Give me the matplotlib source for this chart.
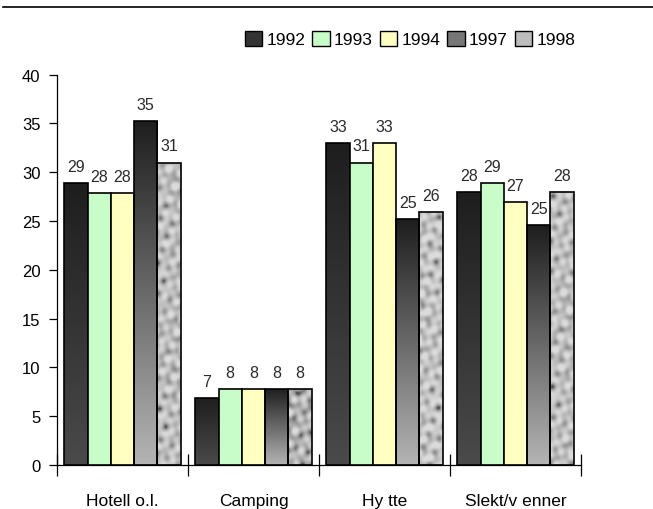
#!/usr/bin/env python3

"""Overnattingsform 1992-1998: grouped bar chart with gradient/texture fills."""

import matplotlib
matplotlib.use("Agg")
import matplotlib.pyplot as plt
import numpy as np
from matplotlib.lines import Line2D
from matplotlib.patches import Patch

FONT = ["Liberation Sans Narrow", "Liberation Sans", "DejaVu Sans"]
plt.rcParams["font.family"] = FONT

categories = ["Hotell o.l.", "Camping", "Hy tte", "Slekt/v enner"]
years = ["1992", "1993", "1994", "1997", "1998"]
values = {
    "1992": [28.9, 6.9, 33.0, 28.0],
    "1993": [27.9, 7.8, 31.0, 28.9],
    "1994": [27.9, 7.8, 33.0, 27.0],
    "1997": [35.3, 7.8, 25.2, 24.6],
    "1998": [31.0, 7.8, 25.9, 28.0],
}
labels = {
    "1992": [29, 7, 33, 28],
    "1993": [28, 8, 31, 29],
    "1994": [28, 8, 33, 27],
    "1997": [35, 8, 25, 25],
    "1998": [31, 8, 26, 28],
}
y_ticks = [0, 5, 10, 15, 20, 25, 30, 35, 40]

# fill styles per year: ("solid", colour) or ("gradient", top, bottom) or ("texture",)
fills = {
    "1992": ("gradient", "#1e1e1e", "#4a4a4a"),
    "1993": ("solid", "#c8fcc8"),
    "1994": ("solid", "#ffffc2"),
    "1997": ("gradient", "#1e1e1e", "#b4b4b4"),
    "1998": ("texture",),
}
legend_colors = {"1992": "#333333", "1993": "#c8fcc8", "1994": "#ffffc2",
                 "1997": "#777777", "1998": "#bdbdbd"}

fig = plt.figure(figsize=(6.53, 5.10), dpi=100)
ax = fig.add_axes([57 / 653, 1 - 466 / 510, 524 / 653, 390.3 / 510])

n = len(years)
bar_w = 0.178
centers = np.arange(len(categories)) + 0.5
px_per_unit = 390.3 / 40


def hex_rgb(c):
    return np.array(matplotlib.colors.to_rgb(c))


def granite(h_px, w_px, seed_shift):
    # deterministic mottled pattern built from crossed sine waves
    yy, xx = np.mgrid[0:h_px, 0:w_px].astype(float)
    xx = xx + seed_shift
    f = np.zeros_like(xx)
    for ang, wl, ph in [(0.3, 11.1, 0.4), (1.2, 9.8, 1.9), (2.1, 13.7, 2.7),
                        (2.8, 9.3, 0.8), (0.8, 17.3, 3.3), (1.7, 14.4, 5.1)]:
        f += np.sin((np.cos(ang) * xx + np.sin(ang) * yy) * 2 * np.pi / wl + ph)
    f = (f - f.min()) / (f.max() - f.min())
    g = 0.34 + 0.52 * np.clip(f * 1.4 - 0.08, 0, 1) ** 0.5
    return np.dstack([g, g, g]).clip(0, 1)


for j, yr in enumerate(years):
    xs = centers + (j - (n - 1) / 2) * bar_w
    kind = fills[yr]
    face = kind[1] if kind[0] == "solid" else "none"
    bars = ax.bar(xs, values[yr], width=bar_w, color=face, edgecolor="black",
                  linewidth=1.2, zorder=3)
    for k, (b, v, lab) in enumerate(zip(bars, values[yr], labels[yr])):
        x0 = b.get_x()
        if kind[0] == "gradient":
            t = np.linspace(0, 1, 100)[:, None]
            img = (1 - t) * hex_rgb(kind[1]) + t * hex_rgb(kind[2])
            im = ax.imshow(img[:, None, :].repeat(2, axis=1), extent=(x0, x0 + bar_w, 0, v),
                           aspect="auto", origin="upper", zorder=2)
            im.set_clip_path(b)
        elif kind[0] == "texture":
            hp = max(int(v * px_per_unit), 4)
            im = ax.imshow(granite(hp, 24, k * 17), extent=(x0, x0 + bar_w, 0, v),
                           aspect="auto", origin="upper", zorder=2,
                           interpolation="bilinear")
            im.set_clip_path(b)
        ax.annotate(str(lab), (x0 + bar_w / 2, v), xytext=(0, 6.5),
                    textcoords="offset points", ha="center", va="bottom",
                    fontsize=11.5, color="#2a2a2a", zorder=4)

ax.set_xlim(0, len(categories))
ax.set_ylim(0, 40)

for side in ["top", "right"]:
    ax.spines[side].set_visible(False)
ax.spines["left"].set_linewidth(0.9)
ax.spines["bottom"].set_linewidth(0.9)

ax.set_yticks(y_ticks)
ax.set_yticklabels([str(t) for t in y_ticks], fontsize=12)
ax.tick_params(axis="y", direction="out", length=6, width=0.9, pad=6)

ax.set_xticks(np.arange(len(categories) + 1))
ax.set_xticklabels([])
ax.tick_params(axis="x", direction="inout", length=16, width=0.9)
for c, name in zip(centers, categories):
    ax.text(c, -0.09, name, transform=ax.get_xaxis_transform(), ha="center",
            va="center", fontsize=12.5)

# horizontal rule at the top of the page
fig.add_artist(Line2D([3 / 653, 1], [1 - 8 / 510, 1 - 8 / 510], color="black",
                      linewidth=1.2))

handles = [Patch(facecolor=legend_colors[y], edgecolor="black", linewidth=1.0)
           for y in years]
fig.legend(handles, years, loc="center", bbox_to_anchor=(410 / 653, 1 - 40 / 510),
           ncol=5, frameon=False, fontsize=12.5, handlelength=1.0, handleheight=1.0,
           handletextpad=0.25, columnspacing=0.4, borderaxespad=0)

fig.savefig("out.png", dpi=100)
